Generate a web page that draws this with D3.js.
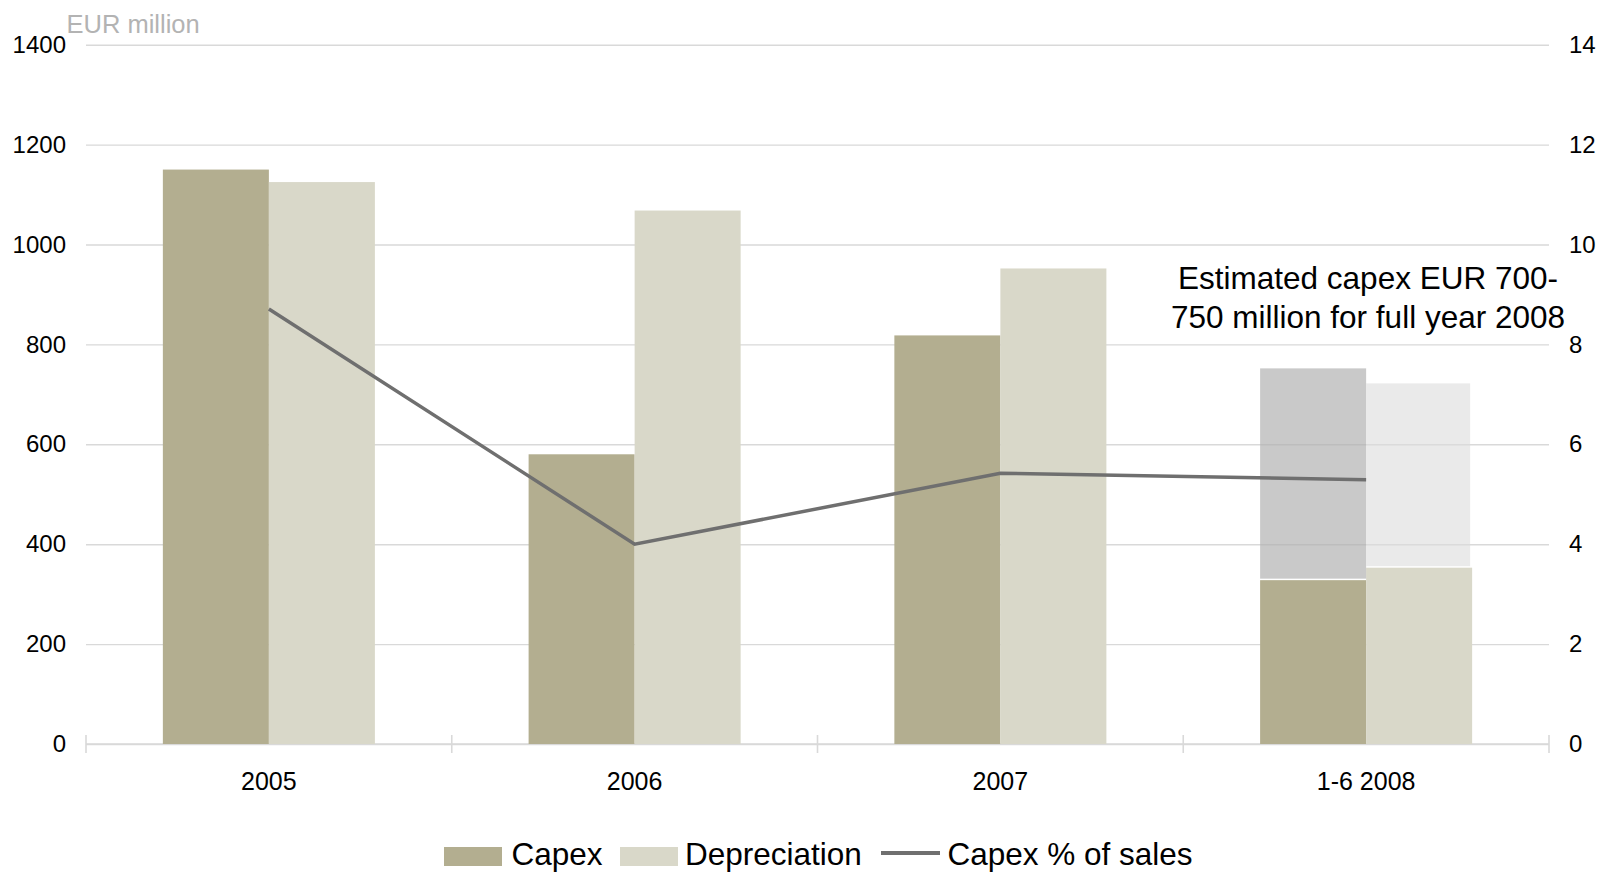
<!DOCTYPE html>
<html>
<head>
<meta charset="utf-8">
<script src="https://cdn.jsdelivr.net/npm/d3@7"></script>
<style>
  html, body { margin: 0; padding: 0; background: #fff; overflow: hidden; }
  svg { display: block; font-family: "Liberation Sans", Arial, sans-serif; }
</style>
</head>
<body>
<svg id="chart" width="1603" height="872"></svg>
<script>
// ---- data ----
const categories = ["2005", "2006", "2007", "1-6 2008"];
const capex = [1150, 580, 818, 328];
const depreciation = [1125, 1068, 952, 353];
const estimateCategory = "1-6 2008";
const estimateCapex = 752;          // full-year estimate box (capex)
const estimateDepreciation = 722;   // full-year estimate box (depreciation)
const capexPctOfSales = [8.71, 4.0, 5.42, 5.29];
const leftTicks = [0, 200, 400, 600, 800, 1000, 1200, 1400];
const rightTicks = [0, 2, 4, 6, 8, 10, 12, 14];
const seriesNames = ["Capex", "Depreciation", "Capex % of sales"];
const unitLabel = "EUR million";
const noteLines = ["Estimated capex EUR 700-", "750 million for full year 2008"];

// ---- layout ----
const plotLeft = 86, plotRight = 1549, plotTop = 44.7, plotBottom = 744;
const colCapex = "#b3ae90", colDep = "#d9d8c9", colLine = "#6f6f6f", colGrid = "#d9d9d9";

const svg = d3.select("#chart");
const x = d3.scaleBand().domain(categories).range([plotLeft, plotRight]).paddingInner(0).paddingOuter(0);
const x1 = d3.scaleBand().domain(["Capex", "Depreciation"]).range([0, x.bandwidth()]).paddingInner(0).paddingOuter(0.725);
const yL = d3.scaleLinear().domain([0, 1400]).range([plotBottom, plotTop]);
const yR = d3.scaleLinear().domain([0, 14]).range([plotBottom, plotTop]);

// left axis + gridlines
const gL = svg.append("g").attr("transform", `translate(${plotLeft},0)`)
  .call(d3.axisLeft(yL).tickValues(leftTicks).tickSize(-(plotRight - plotLeft)).tickPadding(20).tickFormat(d3.format("d")));
gL.select(".domain").remove();
gL.selectAll(".tick line").attr("stroke", colGrid).attr("stroke-width", 1.4);
gL.selectAll(".tick text").attr("font-size", 24).attr("fill", "#000").attr("font-family", "Liberation Sans, Arial, sans-serif");

// right axis
const gR = svg.append("g").attr("transform", `translate(${plotRight},0)`)
  .call(d3.axisRight(yR).tickValues(rightTicks).tickSize(0).tickPadding(20).tickFormat(d3.format("d")));
gR.select(".domain").remove();
gR.selectAll(".tick text").attr("font-size", 24).attr("fill", "#000").attr("font-family", "Liberation Sans, Arial, sans-serif");

// bottom axis line + band-edge ticks
svg.append("line").attr("x1", plotLeft).attr("x2", plotRight).attr("y1", plotBottom).attr("y2", plotBottom)
  .attr("stroke", colGrid).attr("stroke-width", 1.6);
const edges = categories.map(c => x(c)).concat([x(categories[categories.length - 1]) + x.bandwidth()]);
svg.append("g").selectAll("line").data(edges).join("line")
  .attr("x1", d => d).attr("x2", d => d).attr("y1", plotBottom - 9).attr("y2", plotBottom + 9)
  .attr("stroke", colGrid).attr("stroke-width", 1.6);

// x labels
svg.append("g").selectAll("text").data(categories).join("text")
  .attr("x", d => x(d) + x.bandwidth() / 2).attr("y", 790)
  .attr("text-anchor", "middle").attr("font-size", 25).attr("fill", "#000").text(d => d);

// bars
const rows = categories.map((c, i) => ({ c, capex: capex[i], dep: depreciation[i] }));
const gb = svg.append("g");
gb.selectAll("rect.capex").data(rows).join("rect").attr("class", "capex")
  .attr("x", d => x(d.c) + x1("Capex")).attr("width", x1.bandwidth())
  .attr("y", d => yL(d.capex)).attr("height", d => yL(0) - yL(d.capex)).attr("fill", colCapex);
gb.selectAll("rect.dep").data(rows).join("rect").attr("class", "dep")
  .attr("x", d => x(d.c) + x1("Depreciation")).attr("width", x1.bandwidth())
  .attr("y", d => yL(d.dep)).attr("height", d => yL(0) - yL(d.dep)).attr("fill", colDep);

// estimate boxes (semi-transparent, above actual bars)
const ei = categories.indexOf(estimateCategory);
const est = [
  { key: "Capex", val: estimateCapex, base: capex[ei], fill: "#afafaf", op: 0.68, w: 0 },
  { key: "Depreciation", val: estimateDepreciation, base: depreciation[ei], fill: "#dcdcdc", op: 0.6, w: -2 }
];
gb.selectAll("rect.est").data(est).join("rect").attr("class", "est")
  .attr("x", d => x(estimateCategory) + x1(d.key)).attr("width", d => x1.bandwidth() + d.w)
  .attr("y", d => yL(d.val)).attr("height", d => yL(d.base) - yL(d.val) - 1.5)
  .attr("fill", d => d.fill).attr("fill-opacity", d => d.op);

// line
const line = d3.line().x((d, i) => x(categories[i]) + x.bandwidth() / 2).y(d => yR(d));
svg.append("path").datum(capexPctOfSales).attr("d", line)
  .attr("fill", "none").attr("stroke", colLine).attr("stroke-width", 3.5);

// unit label
svg.append("text").attr("x", 66.5).attr("y", 33).attr("font-size", 25.5).attr("fill", "#b3b3b3").text(unitLabel);

// annotation
svg.append("g").selectAll("text").data(noteLines).join("text")
  .attr("x", 1368).attr("y", (d, i) => 289 + i * 39).attr("text-anchor", "middle")
  .attr("font-size", 31.5).attr("fill", "#000").text(d => d);

// legend
const lg = svg.append("g");
const legendItems = [
  { name: seriesNames[0], type: "rect", color: colCapex, sx: 444, tx: 511.5 },
  { name: seriesNames[1], type: "rect", color: colDep, sx: 620, tx: 685 },
  { name: seriesNames[2], type: "line", color: colLine, sx: 881, tx: 947.5 }
];
legendItems.forEach(it => {
  if (it.type === "rect") {
    lg.append("rect").attr("x", it.sx).attr("y", 847).attr("width", 58).attr("height", 19).attr("fill", it.color);
  } else {
    lg.append("line").attr("x1", it.sx).attr("x2", it.sx + 59).attr("y1", 853).attr("y2", 853)
      .attr("stroke", it.color).attr("stroke-width", 4);
  }
  lg.append("text").attr("x", it.tx).attr("y", 865).attr("font-size", 31.5).attr("fill", "#000").text(it.name);
});
</script>
</body>
</html>
